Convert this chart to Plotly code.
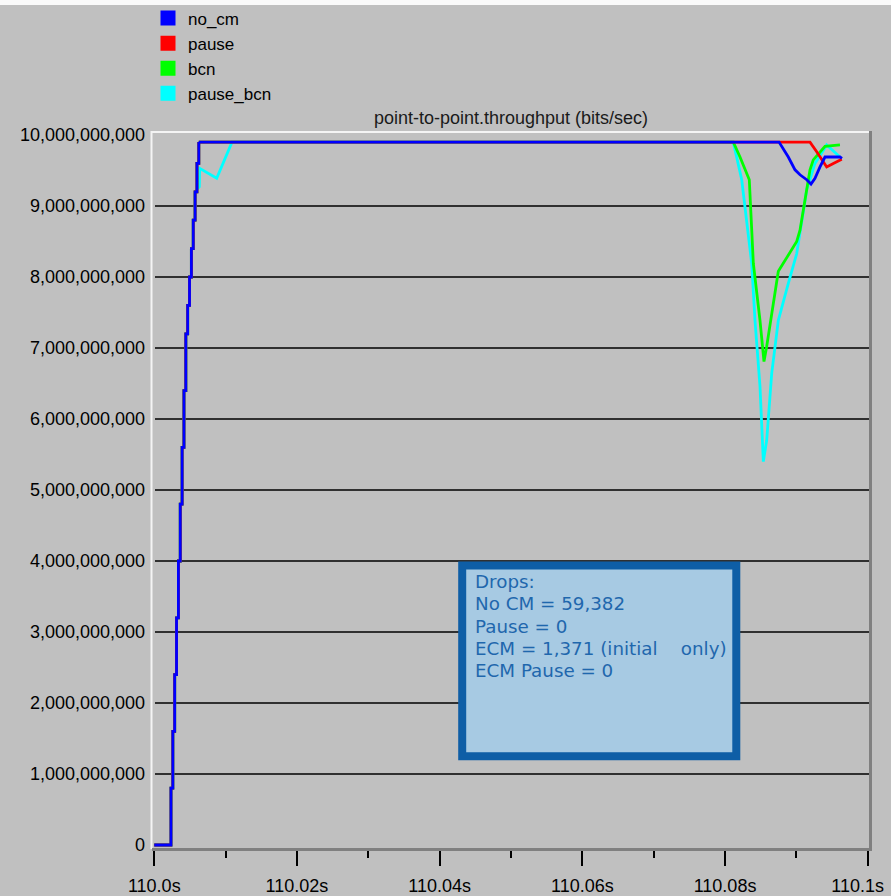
import plotly.graph_objects as go

GB = 1e9

# ---- data (time in s, throughput in Gbit/s) ----
SERIES_NAMES = ["no_cm", "pause", "bcn", "pause_bcn"]
SERIES_COLORS = ["#0000FF", "#FF0000", "#00FF00", "#00FFFF"]

# initial ramp (staircase), shared by the series
RISE_T = [110.0, 110.00234, 110.00260, 110.00286, 110.00312, 110.00338, 110.00364,
          110.00390, 110.00416, 110.00442, 110.00468, 110.00494, 110.00520,
          110.00546, 110.00572, 110.00598, 110.00624]
RISE_V = [0.0, 0.8, 1.6, 2.4, 3.2, 4.0, 4.8, 5.6, 6.4, 7.2, 7.6, 8.0, 8.4, 8.8,
          9.2, 9.6, 9.9]

NOCM_T = [110.00624, 110.08757, 110.08887, 110.08981, 110.09051, 110.09145,
          110.09205, 110.09261, 110.09331, 110.09401, 110.09611, 110.09640]
NOCM_V = [9.9, 9.9, 9.69, 9.51, 9.44, 9.37, 9.31, 9.39, 9.55, 9.69, 9.69, 9.67]

PAUSE_T = [110.00624, 110.09191, 110.09285, 110.09355, 110.09425, 110.09518, 110.09636]
PAUSE_V = [9.9, 9.9, 9.765, 9.65, 9.55, 9.60, 9.66]

BCN_T = [110.00624, 110.08116, 110.08210, 110.08340, 110.08397, 110.08490,
         110.08546, 110.08584, 110.08747, 110.09005, 110.09051, 110.09191,
         110.09237, 110.09401, 110.09611]
BCN_V = [9.9, 9.9, 9.69, 9.37, 8.19, 7.39, 6.81, 7.02, 8.08, 8.50, 8.66, 9.51,
         9.65, 9.84, 9.86]

PBCN_T = [110.00572, 110.00631, 110.00636, 110.00875, 110.01089, 110.08116,
          110.08234, 110.08374, 110.08420, 110.08490, 110.08537, 110.08584,
          110.08654, 110.08747, 110.08887, 110.09005, 110.09145, 110.09261,
          110.09425, 110.09611]
PBCN_V = [9.2, 9.27, 9.53, 9.39, 9.9, 9.9, 9.37, 8.19, 7.39, 6.46, 5.40, 5.70,
          6.64, 7.39, 7.91, 8.33, 9.23, 9.60, 9.86, 9.69]
PBCN_RISE_N = 15  # pause_bcn follows the shared ramp up to 9.2 Gbit/s

X_TICKS = [110.0, 110.02, 110.04, 110.06, 110.08, 110.1]
X_TICK_LABELS = ["110.0s", "110.02s", "110.04s", "110.06s", "110.08s",
                 "110.1s\u2007\u2007"]
X_MINOR_TICKS = [110.01, 110.03, 110.05, 110.07, 110.09]

Y_TICKS = [0, 1, 2, 3, 4, 5, 6, 7, 8, 9, 10]
Y_TICK_LABELS = ["0", "1,000,000,000", "2,000,000,000", "3,000,000,000",
                 "4,000,000,000", "5,000,000,000", "6,000,000,000",
                 "7,000,000,000", "8,000,000,000", "9,000,000,000",
                 "10,000,000,000"]
Y_GRID = [1, 2, 3, 4, 5, 6, 7, 8, 9]

TITLE = "point-to-point.throughput (bits/sec)"
NOTE_LINES = ["Drops:", "No CM = 59,382", "Pause = 0",
              "ECM = 1,371 (initial\u00a0\u00a0\u00a0 only)", "ECM Pause = 0"]

# ---- figure ----
BG = "#C0C0C0"
LW = 2.8
fig = go.Figure()

def add_series(rise_t, rise_v, t, v, color):
    fig.add_trace(go.Scatter(x=rise_t, y=[a * GB for a in rise_v], mode="lines",
                             line=dict(color=color, width=LW, shape="hv"),
                             showlegend=False, hoverinfo="skip"))
    fig.add_trace(go.Scatter(x=t, y=[a * GB for a in v], mode="lines",
                             line=dict(color=color, width=LW),
                             showlegend=False, hoverinfo="skip"))

# drawing order: pause_bcn, bcn, pause, no_cm (no_cm on top)
add_series(RISE_T[:PBCN_RISE_N], RISE_V[:PBCN_RISE_N], PBCN_T, PBCN_V, SERIES_COLORS[3])
add_series(RISE_T, RISE_V, BCN_T, BCN_V, SERIES_COLORS[2])
add_series(RISE_T, RISE_V, PAUSE_T, PAUSE_V, SERIES_COLORS[1])
add_series(RISE_T, RISE_V, NOCM_T, NOCM_V, SERIES_COLORS[0])

# legend entries (square swatches)
for name, color in zip(SERIES_NAMES, SERIES_COLORS):
    fig.add_trace(go.Scatter(x=[None], y=[None], mode="markers", name=name,
                             marker=dict(symbol="square", size=15, color=color),
                             showlegend=True))

L, R, T, B = 152, 22, 132, 48
W, H = 891, 896
PW, PH = W - L - R, H - T - B

def px_x(x):  # pixel x -> paper
    return (x - L) / PW

def px_y(y):  # pixel y -> paper
    return (H - B - y) / PH

shapes = []
for g in Y_GRID:
    shapes.append(dict(type="line", xref="paper", yref="y", x0=px_x(155), x1=1,
                       y0=g * GB, y1=g * GB, line=dict(color="#303030", width=2),
                       layer="below"))
# sunken frame
shapes += [
    dict(type="line", xref="paper", yref="paper", x0=px_x(151.5), x1=px_x(151.5),
         y0=px_y(849), y1=px_y(131), line=dict(color="#F4F4F4", width=2)),
    dict(type="line", xref="paper", yref="paper", x0=px_x(151), x1=px_x(871),
         y0=px_y(132), y1=px_y(132), line=dict(color="#F4F4F4", width=2)),
    dict(type="line", xref="paper", yref="paper", x0=px_x(870.5), x1=px_x(870.5),
         y0=px_y(131), y1=px_y(851), line=dict(color="#808080", width=3)),
    dict(type="line", xref="paper", yref="paper", x0=px_x(152), x1=px_x(872),
         y0=px_y(849.5), y1=px_y(849.5), line=dict(color="#808080", width=3)),
    dict(type="rect", xref="paper", yref="paper", x0=px_x(0), x1=px_x(891),
         y0=px_y(5), y1=px_y(0), line=dict(width=0), fillcolor="#FAFAFA"),
    # drops box
    dict(type="rect", xref="paper", yref="paper", x0=px_x(462.2), x1=px_x(736.3),
         y0=px_y(756.3), y1=px_y(565.5), line=dict(color="#0E5EA6", width=8),
         fillcolor="#A7CAE3", layer="above"),
]

annotations = []
for i, line in enumerate(NOTE_LINES):
    annotations.append(dict(xref="paper", yref="paper", x=px_x(473), y=px_y(581.5 + 22.3 * i),
                            xanchor="left", yanchor="middle", showarrow=False, text=line,
                            font=dict(family="DejaVu Sans", size=18.3, color="#1F67AD")))

fig.update_layout(
    width=W, height=H,
    margin=dict(l=L, r=R, t=T, b=B, pad=0, autoexpand=False),
    paper_bgcolor=BG, plot_bgcolor=BG,
    font=dict(family="Liberation Sans", size=18, color="#000000"),
    title=dict(text=TITLE, x=px_x(511), xref="paper", y=1 - 118 / H, yref="container",
               xanchor="center", yanchor="middle",
               font=dict(family="Liberation Sans", size=18, color="#1A1A1A")),
    showlegend=True,
    legend=dict(x=px_x(148), y=px_y(0.5), xanchor="left", yanchor="top",
                bgcolor="rgba(0,0,0,0)", font=dict(family="Liberation Sans", size=17,
                                                     color="#000000")),
    xaxis=dict(range=[109.99968, 110.10018], tickmode="array", tickvals=X_TICKS,
               ticktext=X_TICK_LABELS, ticks="outside", ticklen=17, tickwidth=2,
               tickcolor="#000000", showgrid=False, zeroline=False, showline=False,
               ticklabelstandoff=4, automargin=False, ticklabeloverflow="allow",
               minor=dict(tickmode="array", tickvals=X_MINOR_TICKS, ticks="outside",
                          ticklen=9, tickwidth=2, tickcolor="#000000", showgrid=False)),
    yaxis=dict(range=[-0.0423 * GB, 10.0423 * GB], tickmode="array",
               tickvals=[v * GB for v in Y_TICKS], ticktext=Y_TICK_LABELS,
               ticks="", showgrid=False, zeroline=False, showline=False,
               ticklabelstandoff=6, automargin=False),
    shapes=shapes,
    annotations=annotations,
)

fig.write_html(
    "out.html",
    config={"displayModeBar": False},
    post_script="document.body.style.margin='0';document.body.style.background='#C0C0C0';",
)
